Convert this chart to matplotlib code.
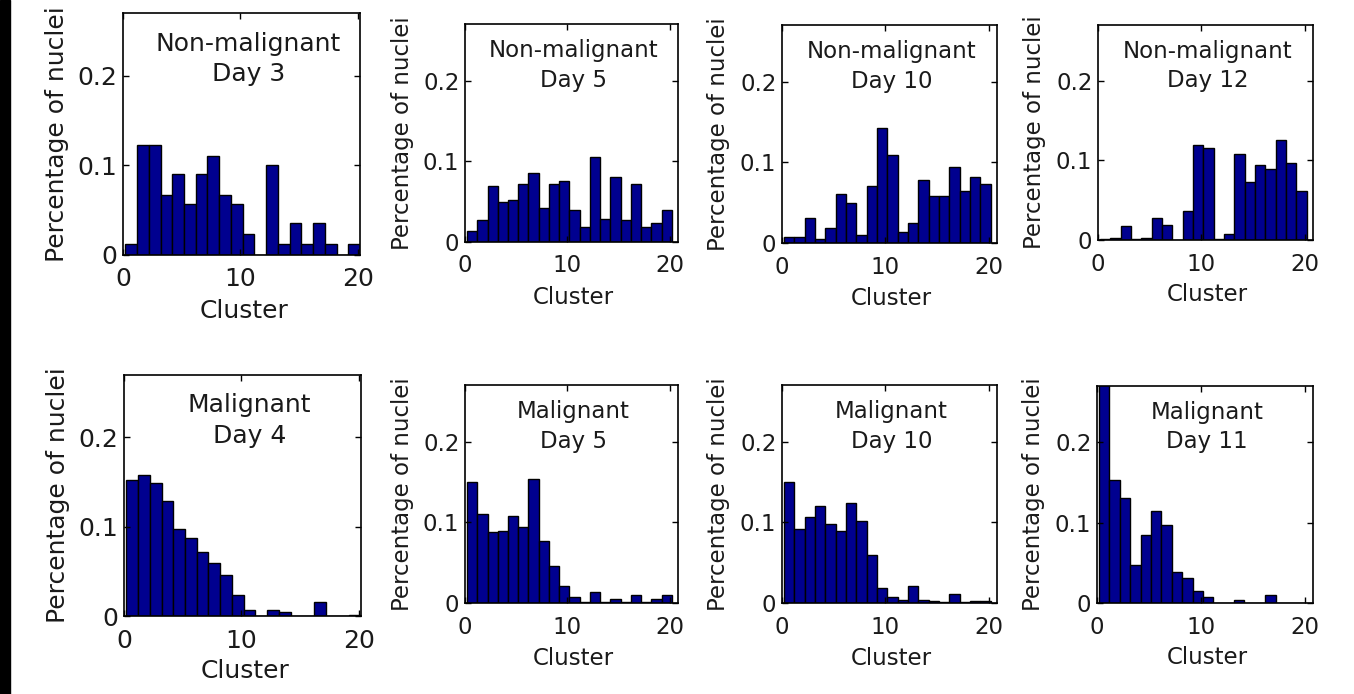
import numpy as np
import matplotlib.pyplot as plt
from matplotlib.patches import Rectangle

# cluster ids on the x axis
clusters = np.arange(1, 21)

# fraction of nuclei in each cluster
nonmal_day3 = [0.012, 0.123, 0.123, 0.067, 0.090, 0.057, 0.090, 0.111, 0.067, 0.057,
               0.023, 0.000, 0.100, 0.012, 0.036, 0.012, 0.036, 0.012, 0.000, 0.012]
nonmal_day5 = [0.014, 0.027, 0.069, 0.049, 0.052, 0.072, 0.086, 0.042, 0.072, 0.075,
               0.040, 0.019, 0.105, 0.029, 0.080, 0.027, 0.072, 0.019, 0.024, 0.040]
nonmal_day10 = [0.007, 0.007, 0.031, 0.005, 0.019, 0.061, 0.049, 0.010, 0.071, 0.143,
                0.109, 0.014, 0.025, 0.078, 0.058, 0.058, 0.094, 0.065, 0.082, 0.073]
nonmal_day12 = [0.001, 0.002, 0.018, 0.001, 0.003, 0.028, 0.019, 0.000, 0.036, 0.119,
                0.116, 0.001, 0.008, 0.108, 0.073, 0.094, 0.089, 0.125, 0.097, 0.062]
mal_day4 = [0.152, 0.158, 0.149, 0.129, 0.098, 0.087, 0.072, 0.059, 0.046, 0.023,
            0.007, 0.000, 0.007, 0.004, 0.000, 0.000, 0.016, 0.000, 0.000, 0.001]
mal_day5 = [0.150, 0.110, 0.088, 0.089, 0.108, 0.094, 0.154, 0.077, 0.046, 0.021,
            0.007, 0.001, 0.014, 0.001, 0.005, 0.001, 0.010, 0.001, 0.005, 0.010]
mal_day10 = [0.150, 0.092, 0.106, 0.120, 0.098, 0.089, 0.124, 0.102, 0.059, 0.018,
             0.008, 0.004, 0.021, 0.004, 0.003, 0.001, 0.011, 0.001, 0.003, 0.003]
mal_day11 = [0.290, 0.153, 0.131, 0.047, 0.085, 0.114, 0.097, 0.038, 0.031, 0.015,
             0.008, 0.000, 0.000, 0.004, 0.000, 0.000, 0.010, 0.000, 0.000, 0.000]

panel_data = [nonmal_day3, nonmal_day5, nonmal_day10, nonmal_day12,
              mal_day4, mal_day5, mal_day10, mal_day11]
panel_titles = ['Non-malignant\nDay 3', 'Non-malignant\nDay 5',
                'Non-malignant\nDay 10', 'Non-malignant\nDay 12',
                'Malignant\nDay 4', 'Malignant\nDay 5',
                'Malignant\nDay 10', 'Malignant\nDay 11']

W, H = 1354, 694
# axes boxes in pixels: left, right, top, bottom
boxes = [(123, 360, 13, 255), (465, 678, 24, 242), (782, 997, 25, 243), (1098, 1313, 25, 240),
         (124, 361, 375, 616), (465, 678, 385, 603), (782, 997, 385, 603), (1097, 1313, 386, 603)]

plt.rcParams['font.family'] = 'DejaVu Sans'
txt = '#1a1a1a'
bar_color = (0, 0, 0.56)

fig = plt.figure(figsize=(W / 100, H / 100), dpi=100)

# black strip at the left edge of the scan
fig.patches.append(Rectangle((0, 0), 10 / W, 1, transform=fig.transFigure,
                             color='black', zorder=10))

for i, (vals, title, (l, r, t, b)) in enumerate(zip(panel_data, panel_titles, boxes)):
    ax = fig.add_axes([l / W, 1 - b / H, (r - l) / W, (b - t) / H])
    big = (i % 4 == 0)
    fs = 18 if big else 16.5

    ax.bar(clusters - 0.3, vals, width=1.0, color=bar_color,
           edgecolor='black', linewidth=1.0)
    ax.set_xlim(0, 20.2 if big else 20.8)
    ax.set_ylim(0, 0.27)
    ax.set_xticks([0, 10, 20])
    ax.set_yticks([0, 0.1, 0.2])
    ax.set_yticklabels(['0', '0.1', '0.2'])
    ax.tick_params(direction='in', length=4, width=1, top=True, right=True,
                   labelsize=fs, labelcolor=txt, pad=4)
    ax.tick_params(axis='x', pad=9)
    for sp in ax.spines.values():
        sp.set_linewidth(1.2)

    ax.set_xlabel('Cluster', fontsize=fs, color=txt)
    ax.set_ylabel('Percentage of nuclei', fontsize=fs, color=txt)
    ax.xaxis.set_label_coords(0.51, -0.18 if big else -0.20)
    ax.yaxis.set_label_coords(-0.228 if big else -0.24, 0.5)

    ax.text(0.53 if big else 0.51, 0.81, title, transform=ax.transAxes,
            ha='center', va='center', fontsize=fs, color=txt, linespacing=1.35)

fig.savefig('out.png', dpi=100)
